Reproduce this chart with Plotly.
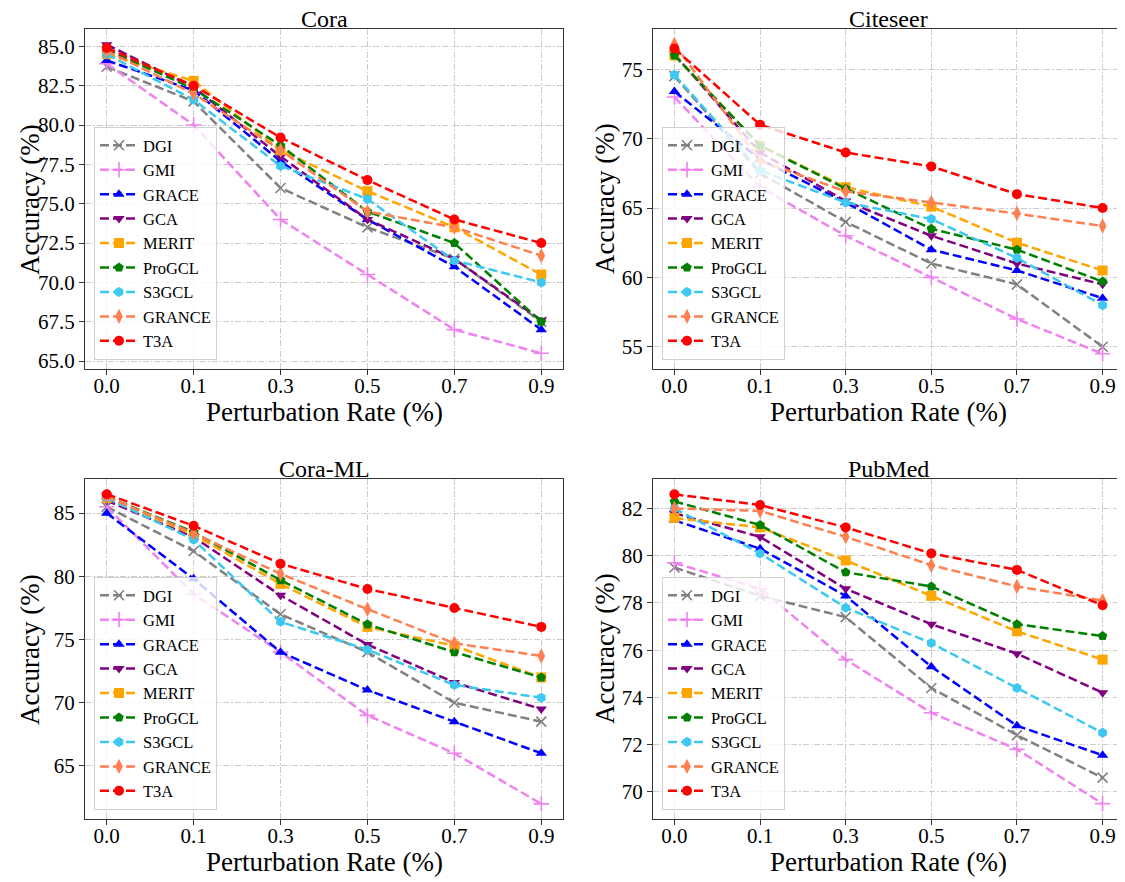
import plotly.graph_objects as go

x_labels = ["0.0", "0.1", "0.3", "0.5", "0.7", "0.9"]
methods = ["DGI", "GMI", "GRACE", "GCA", "MERIT", "ProGCL", "S3GCL", "GRANCE", "T3A"]
panel_titles = ["Cora", "Citeseer", "Cora-ML", "PubMed"]

cora_dgi = [83.7, 81.5, 76.0, 73.5, 71.5, 67.5]
cora_gmi = [83.9, 80.0, 74.0, 70.5, 67.0, 65.5]
cora_grace = [84.1, 82.2, 77.7, 74.0, 71.0, 67.0]
cora_gca = [85.1, 82.4, 78.0, 74.0, 71.5, 67.6]
cora_merit = [84.5, 82.8, 78.4, 75.8, 73.5, 70.5]
cora_progcl = [84.8, 82.3, 78.7, 74.5, 72.5, 67.5]
cora_s3gcl = [84.5, 81.6, 77.4, 75.3, 71.4, 70.0]
cora_grance = [84.7, 82.0, 78.4, 74.5, 73.5, 71.7]
cora_t3a = [84.9, 82.5, 79.2, 76.5, 74.0, 72.5]

citeseer_dgi = [74.5, 67.5, 64.0, 61.0, 59.5, 55.0]
citeseer_gmi = [73.0, 66.5, 63.0, 60.0, 57.0, 54.5]
citeseer_grace = [73.4, 68.5, 65.4, 62.0, 60.5, 58.5]
citeseer_gca = [76.1, 69.0, 65.5, 63.0, 61.0, 59.5]
citeseer_merit = [76.0, 69.5, 66.5, 65.1, 62.5, 60.5]
citeseer_progcl = [76.0, 69.5, 66.4, 63.5, 62.0, 59.7]
citeseer_s3gcl = [74.6, 67.7, 65.4, 64.2, 61.4, 58.0]
citeseer_grance = [76.8, 68.4, 66.2, 65.4, 64.6, 63.7]
citeseer_t3a = [76.5, 71.0, 69.0, 68.0, 66.0, 65.0]

coraml_dgi = [85.5, 82.0, 77.0, 74.0, 70.0, 68.5]
coraml_gmi = [85.5, 78.6, 74.0, 69.0, 66.0, 62.0]
coraml_grace = [85.0, 79.8, 74.0, 71.0, 68.5, 66.0]
coraml_gca = [86.0, 83.1, 78.5, 74.6, 71.6, 69.5]
coraml_merit = [86.2, 83.3, 79.4, 76.0, 74.5, 72.0]
coraml_progcl = [86.3, 83.5, 79.7, 76.2, 74.0, 72.0]
coraml_s3gcl = [86.2, 82.9, 76.4, 74.2, 71.4, 70.4]
coraml_grance = [86.3, 83.4, 80.2, 77.4, 74.7, 73.7]
coraml_t3a = [86.5, 84.0, 81.0, 79.0, 77.5, 76.0]

pubmed_dgi = [79.5, 78.3, 77.4, 74.4, 72.4, 70.6]
pubmed_gmi = [79.7, 78.6, 75.6, 73.35, 71.8, 69.5]
pubmed_grace = [81.5, 80.3, 78.3, 75.3, 72.8, 71.55]
pubmed_gca = [81.8, 80.8, 78.6, 77.1, 75.85, 74.2]
pubmed_merit = [81.6, 81.2, 79.8, 78.3, 76.8, 75.6]
pubmed_progcl = [82.3, 81.3, 79.3, 78.7, 77.1, 76.6]
pubmed_s3gcl = [82.0, 80.1, 77.8, 76.3, 74.4, 72.5]
pubmed_grance = [82.0, 81.9, 80.8, 79.6, 78.7, 78.1]
pubmed_t3a = [82.6, 82.15, 81.2, 80.1, 79.4, 77.9]

panels = [
    [cora_dgi, cora_gmi, cora_grace, cora_gca, cora_merit, cora_progcl, cora_s3gcl, cora_grance, cora_t3a],
    [citeseer_dgi, citeseer_gmi, citeseer_grace, citeseer_gca, citeseer_merit, citeseer_progcl, citeseer_s3gcl, citeseer_grance, citeseer_t3a],
    [coraml_dgi, coraml_gmi, coraml_grace, coraml_gca, coraml_merit, coraml_progcl, coraml_s3gcl, coraml_grance, coraml_t3a],
    [pubmed_dgi, pubmed_gmi, pubmed_grace, pubmed_gca, pubmed_merit, pubmed_progcl, pubmed_s3gcl, pubmed_grance, pubmed_t3a],
]

colors = ["#808080", "#EE82EE", "#0000FF", "#800080", "#FFA500", "#008000", "#3CC8F0", "#FF7F50", "#FF0000"]
symbols = ["x-thin-open", "cross-thin-open", "triangle-up", "triangle-down", "square", "pentagon", "hexagon", "diamond-tall", "circle"]
msizes = [10, 11, 10, 10, 10, 10, 10, 11, 10]

y_ranges = [[64.5, 86.1], [53.4, 77.9], [60.8, 87.7], [68.85, 83.25]]
y_ticks = [[65.0, 67.5, 70.0, 72.5, 75.0, 77.5, 80.0, 82.5, 85.0],
           [55, 60, 65, 70, 75],
           [65, 70, 75, 80, 85],
           [70, 72, 74, 76, 78, 80, 82]]
y_fmt = [".1f", "d", "d", "d"]

# the page body adds an 8px margin, so the figure is drawn 8px smaller and
# every reference pixel position is shifted by -8
OFF = 8
W, H = 1125 - OFF, 882 - OFF


def px_x(v):
    return (v - OFF) / W


def px_y(v):
    return 1 - (v - OFF) / H


x_doms = [[px_x(85), px_x(563)], [px_x(653), px_x(1124)]]
y_doms = [[px_y(369), px_y(29)], [px_y(819), px_y(479)]]

FONT = "Liberation Serif, Times New Roman, serif"
fig = go.Figure()
layout = dict(
    width=W, height=H, margin=dict(l=0, r=0, t=0, b=0),
    plot_bgcolor="white", paper_bgcolor="white",
    font=dict(family=FONT, color="black"),
    annotations=[],
)

for p in range(4):
    r, c = divmod(p, 2)
    sfx = "" if p == 0 else str(p + 1)
    leg = "legend" if p == 0 else "legend" + str(p + 1)
    for i, m in enumerate(methods):
        sym = symbols[i]
        open_sym = sym.endswith("open")
        fig.add_trace(go.Scatter(
            x=x_labels, y=panels[p][i], name=m, mode="lines+markers",
            xaxis="x" + sfx, yaxis="y" + sfx, legend=leg,
            line=dict(color=colors[i], width=2.5, dash="9px,4px"),
            marker=dict(symbol=sym, size=msizes[i], color=colors[i],
                        line=dict(color=colors[i], width=1.6 if open_sym else 0)),
        ))
    ax_common = dict(
        showline=True, mirror=True, linecolor="#333333", linewidth=1.2,
        ticks="outside", ticklen=5, tickcolor="#333333", tickwidth=1.2,
        showgrid=True, gridcolor="#cccccc", gridwidth=1, griddash="6px,2px,1.5px,2px",
        zeroline=False, automargin=False,
        tickfont=dict(family=FONT, size=21, color="black"),
    )
    layout["xaxis" + sfx] = dict(
        ax_common, domain=x_doms[c], anchor="y" + sfx,
        type="category", range=[-0.25, 5.25], ticklabelstandoff=-7,
    )
    layout["yaxis" + sfx] = dict(
        ax_common, domain=y_doms[r], anchor="x" + sfx,
        range=y_ranges[p], tickvals=y_ticks[p], tickformat=y_fmt[p],
    )
    xd, yd = x_doms[c], y_doms[r]
    xc = (xd[0] + xd[1]) / 2
    layout["annotations"] += [
        dict(text=panel_titles[p], x=xc, y=yd[1] + 10 / H, xref="paper", yref="paper",
             xanchor="center", yanchor="middle", showarrow=False,
             font=dict(family=FONT, size=24, color="black")),
        dict(text="Perturbation Rate (%)", x=xc, y=yd[0] - 43 / H, xref="paper", yref="paper",
             xanchor="center", yanchor="middle", showarrow=False,
             font=dict(family=FONT, size=27, color="black")),
        dict(text="Accuracy (%)", x=xd[0] - (55 if c == 0 else 48) / W, y=(yd[0] + yd[1]) / 2,
             xref="paper", yref="paper", xanchor="center", yanchor="middle",
             textangle=-90, showarrow=False,
             font=dict(family=FONT, size=27, color="black")),
    ]
    layout[leg] = dict(
        x=xd[0] + 9 / W, y=yd[0] + 9 / H, xanchor="left", yanchor="bottom",
        bgcolor="rgba(255,255,255,0.8)", bordercolor="#d0d0d0", borderwidth=1,
        font=dict(family=FONT, size=16.5, color="black"),
        itemwidth=38, tracegroupgap=0,
    )

fig.update_layout(**layout)
fig.write_html("out.html")
